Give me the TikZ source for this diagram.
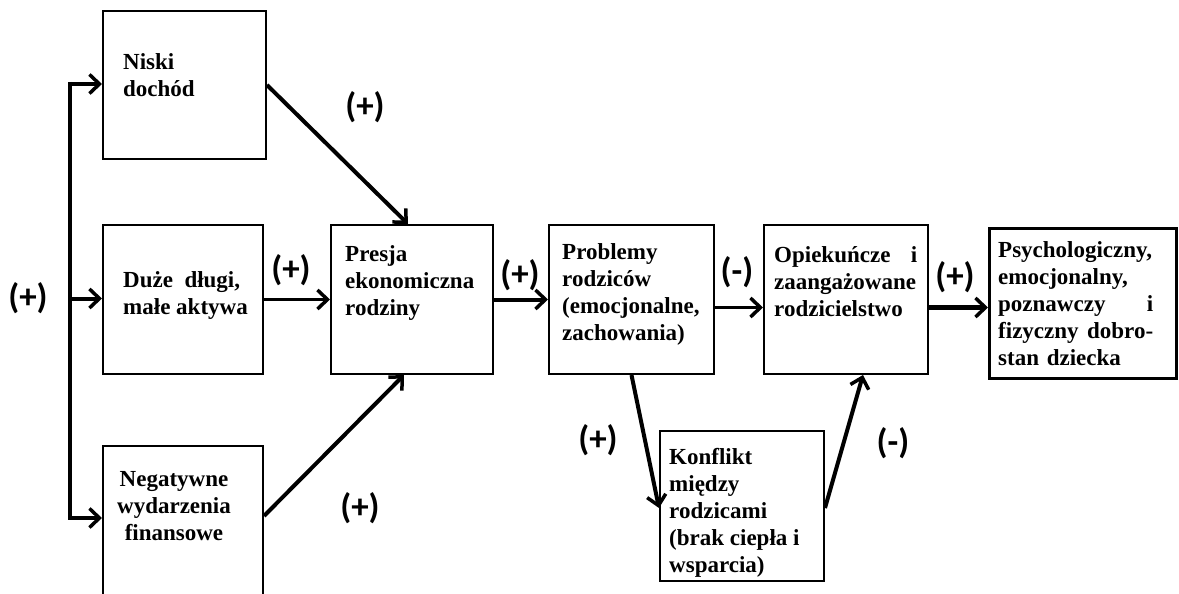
\documentclass[tikz,border=0pt]{standalone}
\usepackage{fontspec}
\setmainfont{Liberation Serif}
\newfontfamily\lblfont{Carlito}
\usetikzlibrary{arrows.meta}
\begin{document}
\begin{tikzpicture}[x=1pt,y=-1pt,
  box/.style={draw, line width=2pt, rectangle, inner sep=0pt, anchor=north west},
  txt/.style={font=\bfseries\fontsize{23}{27}\selectfont, align=left, anchor=base west, inner sep=0pt},
  sgn/.style={font=\lblfont\bfseries\fontsize{35}{35}\selectfont, inner sep=0pt},
  arr/.style={line width=4pt, -{Straight Barb[length=10pt,width=19pt,line width=3.5pt]}},
  bus/.style={line width=4pt},
]
\useasboundingbox (0,0) rectangle (1179,594);
% boxes
\node[box, minimum width=163pt, minimum height=148pt] (niski) at (102,10) {};
\node[box, minimum width=160pt, minimum height=149pt] (duze) at (102,224) {};
\node[box, minimum width=160pt, minimum height=170pt] (neg) at (102,445) {};
\node[box, minimum width=162pt, minimum height=149pt] (presja) at (330,224) {};
\node[box, minimum width=165pt, minimum height=149pt] (probl) at (548,224) {};
\node[box, minimum width=164pt, minimum height=149pt] (opiek) at (763,224) {};
\node[box, line width=2.6pt, minimum width=187pt, minimum height=150pt] (psych) at (988,227) {};
\node[box, minimum width=164pt, minimum height=150pt] (konf) at (659,430) {};
% texts
\node[txt] (tniski) at (123,96) {Niski\\dochód};
\node[txt] (tduze) at (123,314) {Duże\ \ długi,\\małe aktywa};
\node[txt, anchor=base, align=center] (tneg) at (174,540) {Negatywne\\wydarzenia\\finansowe};
\node[txt] (tpresja) at (345,315) {Presja\\ekonomiczna\\rodziny};
\node[txt] (tprobl) at (562,340) {Problemy\\rodziców\\(emocjonalne,\\zachowania)};
\node[txt, text width=143pt] (topiek) at (774,262) {Opiekuńcze\hfill i\\zaangażowane\\rodzicielstwo};
\node[txt, text width=155pt] (tpsych) at (998,257) {Psychologiczny,\\emocjonalny,\\poznawczy\hfill i\\fizyczny\hfill dobro-\\stan dziecka};
\node[txt] (tkonf) at (669,572) {Konflikt\\między\\rodzicami\\(brak ciepła i\\wsparcia)};
% bus
\coordinate (bt) at (70,84);
\coordinate (bm) at (70,298.5);
\coordinate (bb) at (70,518);
\draw[bus] ([yshift=2pt]bt) -- ([yshift=-2pt]bb);
\draw[arr] (bt) -- (niski.west |- bt);
\draw[arr] (bm) -- (duze.west |- bm);
\draw[arr] (bb) -- (neg.west |- bb);
% connectors
\draw[arr] (niski.east) -- ([xshift=-4pt]presja.north);
\draw[arr, line width=3.5pt] (duze.east) -- (presja.west);
\draw[arr] ([yshift=15pt]neg.east) -- ([xshift=-8pt]presja.south);
\draw[arr] (presja.east) -- (probl.west);
\draw[arr, line width=3.5pt] ([yshift=-8pt]probl.east) -- ([yshift=-8pt]opiek.west);
\draw[arr, line width=5pt] ([yshift=-8pt]opiek.east) -- ([yshift=-8pt]opiek.east -| psych.west);
\draw[arr] (probl.south) -- ([yshift=-2pt]konf.west);
\draw[arr] ([yshift=-2pt]konf.east) -- ([xshift=17pt]opiek.south);
% signs
\node[sgn] (s1) at (28,298) {(+)};
\node[sgn] (s2) at (365,107) {(+)};
\node[sgn] (s3) at (291,270) {(+)};
\node[sgn] (s4) at (520,275) {(+)};
\node[sgn] (s5) at (360,508) {(+)};
\node[sgn] (s6) at (737,272) {(-)};
\node[sgn] (s7) at (955,277) {(+)};
\node[sgn] (s8) at (598,440) {(+)};
\node[sgn] (s9) at (893,443) {(-)};
\end{tikzpicture}
\end{document}
